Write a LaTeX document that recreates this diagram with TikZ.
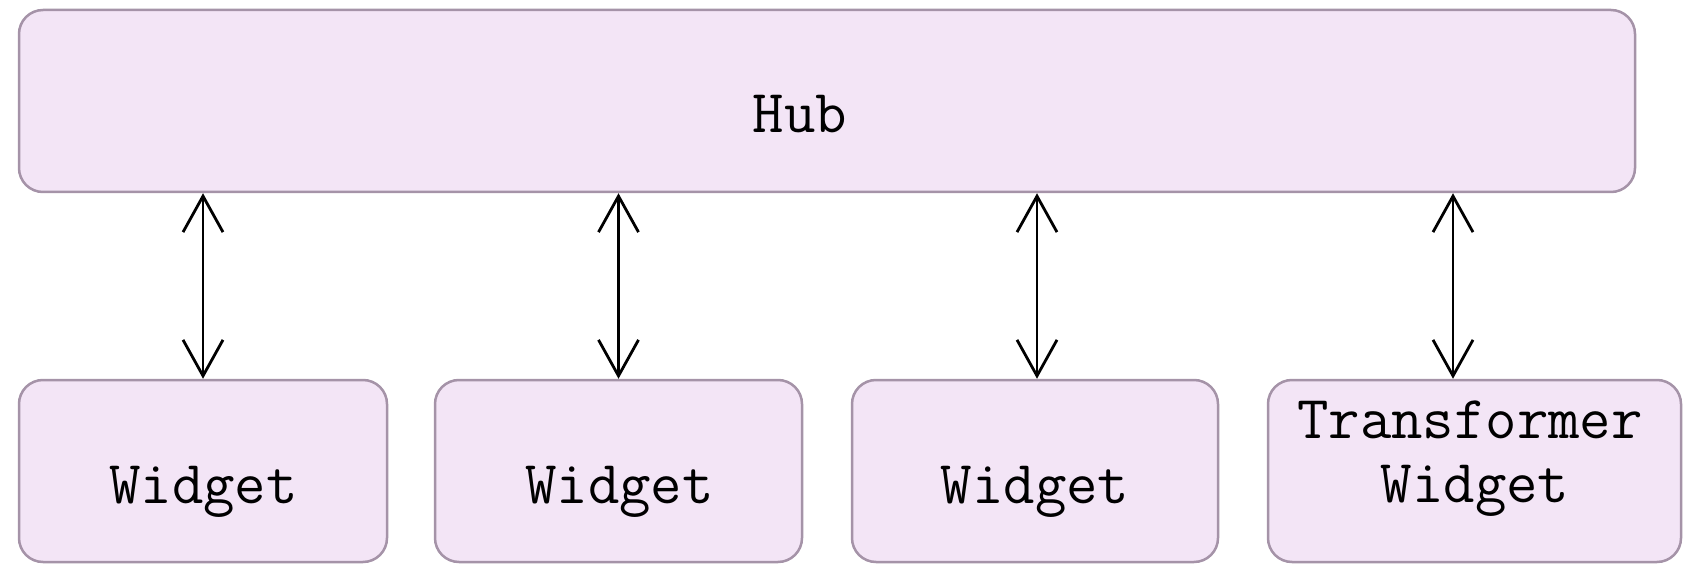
\documentclass[tikz,border=0pt]{standalone}
\usepackage{fontspec}
\usetikzlibrary{arrows.meta,calc}
\definecolor{boxfill}{HTML}{F3E5F6}
\definecolor{boxline}{HTML}{A593A8}
\begin{document}
\begin{tikzpicture}[x=1pt,y=-1pt,
  box/.style={draw=boxline, fill=boxfill, line width=2.5pt, rounded corners=24pt,
    inner sep=0pt, minimum height=182pt},
  lbl/.style={anchor=base, inner sep=0pt, font=\ttfamily\fontsize{61}{72}\selectfont},
  link/.style={line width=2.8pt, {Straight Barb[length=36pt,width=40pt,line width=2.8pt]}-{Straight Barb[length=36pt,width=40pt,line width=2.8pt]}}]
  \useasboundingbox (0,0) rectangle (1692,569);

  % hub across the top
  \node[box, minimum width=1616pt] (hub) at (827,101) {};
  \node[lbl] (hubt) at (800,133) {Hub};

  % widgets along the bottom
  \node[box, minimum width=368pt] (w1) at (203,471) {};
  \node[box, minimum width=367pt] (w2) at (618.5,471) {};
  \node[box, minimum width=366pt] (w3) at (1035,471) {};
  \node[box, minimum width=413pt] (w4) at (1474.5,471) {};

  \node[lbl] (w1t) at (203.5,503) {Widget};
  \node[lbl] (w2t) at (619.5,503) {Widget};
  \node[lbl] (w3t) at (1035,503) {Widget};
  \node[lbl] (w4a) at (1470,438) {Transformer};
  \node[lbl] (w4b) at (1475,502) {Widget};

  % two-way links between hub and each widget
  \draw[link] (hub.south -| w1.north) -- (w1.north);
  \draw[link] (hub.south -| w2.north) -- (w2.north);
  \draw[link] ($(hub.south -| w3.north)+(2,0)$) -- ($(w3.north)+(2,0)$);
  \draw[link] ($(hub.south -| w4.north)+(-21.5,0)$) -- ($(w4.north)+(-21.5,0)$);
\end{tikzpicture}
\end{document}
